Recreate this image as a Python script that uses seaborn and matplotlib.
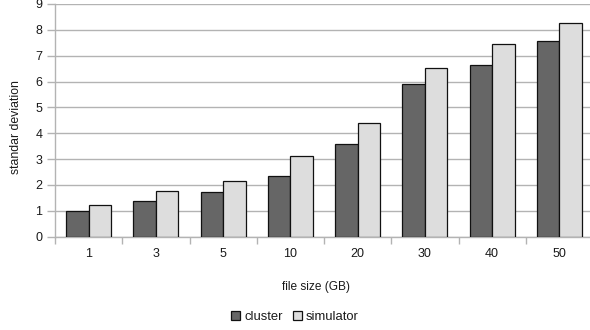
import matplotlib
matplotlib.use("Agg")
import matplotlib.pyplot as plt
import seaborn as sns
import pandas as pd
from matplotlib.ticker import FixedLocator

file_sizes = ["1", "3", "5", "10", "20", "30", "40", "50"]
cluster = [1.00, 1.37, 1.71, 2.35, 3.58, 5.90, 6.65, 7.57]
simulator = [1.23, 1.75, 2.15, 3.11, 4.40, 6.54, 7.47, 8.27]
series = ["cluster", "simulator"]
colors = ["#666666", "#dddddd"]

df = pd.DataFrame({
    "file size": file_sizes * 2,
    "value": cluster + simulator,
    "series": [series[0]] * len(file_sizes) + [series[1]] * len(file_sizes),
})

sns.set_theme(style="white")
plt.rcParams["font.family"] = ["Liberation Sans", "DejaVu Sans"]
plt.rcParams["font.size"] = 9

fig = plt.figure(figsize=(5.9, 3.3), dpi=100)
ax = fig.add_axes([55 / 590, 1 - 236.5 / 330, 538 / 590, 232.5 / 330])

sns.barplot(data=df, x="file size", y="value", hue="series", order=file_sizes,
            hue_order=series, palette=colors, width=0.67, gap=0,
            edgecolor="#111111", linewidth=0.9, saturation=1, ax=ax, zorder=3)

ax.set_xlim(-0.5, len(file_sizes) - 0.5)
ax.set_ylim(0, 9)
ax.set_yticks(range(0, 10))
ax.yaxis.grid(True, color="#b3b3b3", linewidth=1, zorder=0)
ax.set_axisbelow(True)

for side in ["top", "right"]:
    ax.spines[side].set_visible(False)
for side in ["left", "bottom"]:
    ax.spines[side].set_color("#b3b3b3")
    ax.spines[side].set_linewidth(1)

ax.tick_params(axis="y", which="major", length=6, color="#b3b3b3", width=1,
               left=True, labelsize=9, pad=3, labelcolor="#1a1a1a")
ax.tick_params(axis="x", which="major", length=0, labelsize=9, pad=8,
               labelcolor="#1a1a1a")
ax.xaxis.set_minor_locator(FixedLocator([i - 0.5 for i in range(len(file_sizes) + 1)]))
ax.tick_params(axis="x", which="minor", length=5, color="#b3b3b3", width=1,
               bottom=True)

ax.set_xlabel("file size (GB)", fontsize=8.6, color="#1a1a1a")
ax.set_ylabel("standar deviation", fontsize=8.8, color="#1a1a1a")
ax.xaxis.set_label_coords(0.4846, -0.192)
ax.yaxis.set_label_coords(-0.062, 0.47)

ax.legend_.remove()
handles, labels = ax.get_legend_handles_labels()
leg = fig.legend(handles, labels, loc="center", bbox_to_anchor=(295 / 590, 1 - 317 / 330),
                 ncol=2, frameon=False, fontsize=9.4, handlelength=0.7,
                 handleheight=0.7, handletextpad=0.3, columnspacing=0.8,
                 borderaxespad=0)
for t in leg.get_texts():
    t.set_color("#1a1a1a")

fig.savefig("out.png", dpi=100)
